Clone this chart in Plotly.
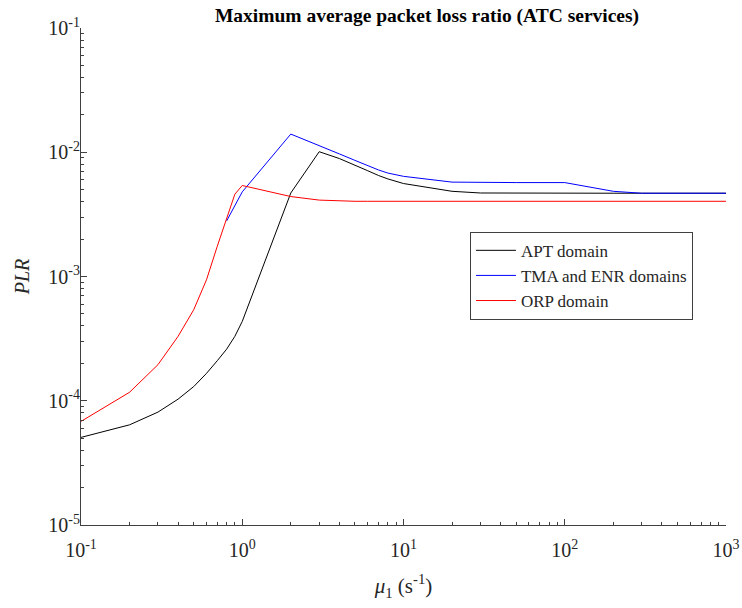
import plotly.graph_objects as go

mu = [0.1, 0.2, 0.3, 0.4, 0.5, 0.6, 0.7, 0.8, 0.9, 1, 2, 3, 4, 5, 6, 7, 8, 10, 20, 30, 50, 100, 200, 300, 500, 1000]

apt = [5.07e-5, 6.4e-5, 8.1e-5, 1.03e-4, 1.3e-4, 1.66e-4, 2.1e-4, 2.6e-4, 3.3e-4, 4.35e-4, 4.7e-3, 1.01e-2,
       8.9e-3, 7.9e-3, 7.1e-3, 6.5e-3, 6.1e-3, 5.6e-3, 4.85e-3, 4.7e-3, 4.68e-3, 4.68e-3, 4.68e-3, 4.68e-3, 4.68e-3, 4.68e-3]

tma_mu = [0.8, 1, 2, 3, 4, 5, 6, 7, 8, 10, 20, 30, 50, 100, 200, 300, 500, 1000]
tma = [2.8e-3, 4.8e-3, 1.4e-2, 1.12e-2, 9.7e-3, 8.6e-3, 7.8e-3, 7.2e-3, 6.8e-3, 6.4e-3, 5.75e-3, 5.7e-3, 5.7e-3, 5.7e-3,
       4.85e-3, 4.68e-3, 4.68e-3, 4.68e-3]

orp = [6.82e-5, 1.17e-4, 1.95e-4, 3.3e-4, 5.4e-4, 9.4e-4, 1.75e-3, 2.9e-3, 4.6e-3, 5.4e-3, 4.4e-3, 4.12e-3,
       4.05e-3, 4.03e-3, 4.03e-3, 4.03e-3, 4.03e-3, 4.03e-3, 4.03e-3, 4.03e-3, 4.03e-3, 4.03e-3, 4.03e-3, 4.03e-3, 4.03e-3, 4.03e-3]

x_ticks = [0.1, 1, 10, 100, 1000]
x_labels = ["10<sup>-1</sup>", "10<sup>0</sup>", "10<sup>1</sup>", "10<sup>2</sup>", "10<sup>3</sup>"]
y_ticks = [1e-5, 1e-4, 1e-3, 1e-2, 1e-1]
y_labels = ["10<sup>-5</sup>", "10<sup>-4</sup>", "10<sup>-3</sup>", "10<sup>-2</sup>", "10<sup>-1</sup>"]

FONT = "Liberation Serif, Times New Roman, serif"

fig = go.Figure()
fig.add_trace(go.Scatter(x=mu, y=apt, mode="lines", name="APT domain",
                         line=dict(color="black", width=1)))
fig.add_trace(go.Scatter(x=tma_mu, y=tma, mode="lines", name="TMA and ENR domains",
                         line=dict(color="blue", width=1)))
fig.add_trace(go.Scatter(x=mu, y=orp, mode="lines", name="ORP domain",
                         line=dict(color="red", width=1)))

def minor_vals(lo, hi):
    vals = []
    d = lo
    while d < hi:
        for k in range(2, 10):
            vals.append(k * d)
        d *= 10
    return vals

axis_common = dict(
    showgrid=False, zeroline=False, showline=True, linecolor="#404040", linewidth=1,
    ticks="inside", ticklen=6, tickcolor="#404040", tickwidth=1,
    tickfont=dict(family=FONT, size=20, color="#262626"),
    mirror=False, automargin=False,
)

fig.update_xaxes(type="log", range=[-1, 3], tickmode="array", tickvals=x_ticks, ticktext=x_labels,
                 minor=dict(ticks="inside", ticklen=3, tickcolor="#404040", tickmode="array",
                            tickvals=minor_vals(0.1, 1000), showgrid=False),
                 ticklabelstandoff=7,
                 title=dict(text="<i>μ</i><sub>1</sub> (s<sup>-1</sup>)",
                            font=dict(family=FONT, size=21, color="#262626"), standoff=18),
                 **axis_common)
fig.update_yaxes(type="log", range=[-5, -1], tickmode="array", tickvals=y_ticks, ticktext=y_labels,
                 minor=dict(ticks="inside", ticklen=3, tickcolor="#404040", tickmode="array",
                            tickvals=minor_vals(1e-5, 1e-1), showgrid=False),
                 ticklabelstandoff=-4,
                 title=dict(text="<i>PLR</i>", font=dict(family=FONT, size=20, color="#262626"), standoff=13),
                 **axis_common)

fig.update_layout(
    width=742, height=608,
    margin=dict(l=81, r=16, t=28, b=83),
    plot_bgcolor="white", paper_bgcolor="white",
    title=dict(text="<b>Maximum average packet loss ratio (ATC services)</b>",
               font=dict(family=FONT, size=19.5, color="black"),
               x=0.5755, xanchor="center", y=0.975, yanchor="middle"),
    legend=dict(x=0.603, y=0.59, xanchor="left", yanchor="top",
                bgcolor="white", bordercolor="#404040", borderwidth=1,
                font=dict(family=FONT, size=17, color="#262626"),
                itemwidth=40, tracegroupgap=0),
    showlegend=True,
)

fig.write_html("out.html")
